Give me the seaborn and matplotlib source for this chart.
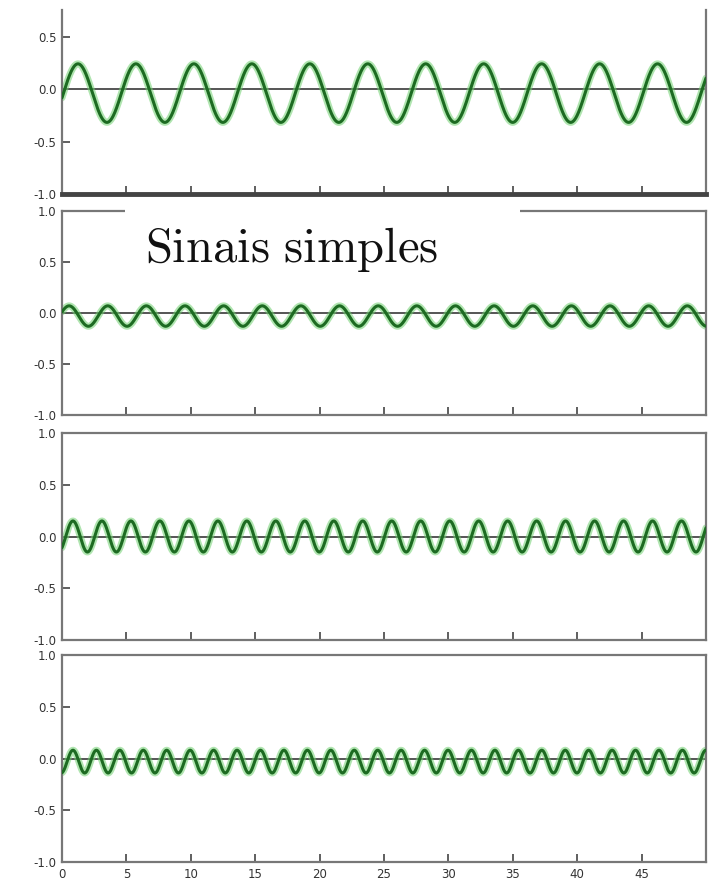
import numpy as np
import pandas as pd
import seaborn as sns
import matplotlib.pyplot as plt
from matplotlib.patches import Rectangle

# Signal readings for the four panels, top to bottom
amplitudes = [0.28, 0.10, 0.15, 0.11]
offsets = [-0.035, -0.03, 0.0, -0.03]
periods = [4.5, 3.0, 2.25, 1.82]
first_peaks = [1.24, 0.55, 0.85, 0.85]
y_tops = [0.76, 1.0, 1.0, 1.0]

x_ticks = [0, 5, 10, 15, 20, 25, 30, 35, 40, 45]
x_labels = ["0", "5", "10", "15", "20", "25", "30", "35", "40", "45"]
y_ticks = [-1.0, -0.5, 0.0, 0.5, 1.0]
y_labels = ["-1.0", "-0.5", "0.0", "0.5", "1.0"]
title = r"$\mathrm{Sinais\ simples}$"

sns.set_style("ticks")
plt.rcParams["mathtext.fontset"] = "cm"
plt.rcParams["font.family"] = ["DejaVu Sans"]

W, H = 713, 882
fig = plt.figure(figsize=(W / 100, H / 100), dpi=100)

# panel boxes in pixels (top, bottom)
boxes = [(10, 194), (211, 415), (433, 640), (655, 862)]
left_px, right_px = 62, 706

t = np.linspace(0, 50, 3000)

for i, (top, bot) in enumerate(boxes):
    ax = fig.add_axes([left_px / W, 1 - bot / H, (right_px - left_px) / W, (bot - top) / H])
    v = offsets[i] + amplitudes[i] * np.cos(2 * np.pi * (t - first_peaks[i]) / periods[i])
    df = pd.DataFrame({"t": t, "v": v})

    ax.axhline(0, color="#555555", lw=1.4, zorder=1)
    sns.lineplot(data=df, x="t", y="v", ax=ax, color="#6fd06f", lw=5.0, alpha=0.55, zorder=2)
    sns.lineplot(data=df, x="t", y="v", ax=ax, color="#1d6b22", lw=2.2, zorder=3)

    ax.set_xlim(0, 50)
    ax.set_ylim(-1.0, y_tops[i])
    ax.set_xticks(x_ticks)
    yt = [y for y in y_ticks if y <= y_tops[i] + 1e-9]
    ax.set_yticks(yt)
    ax.set_yticklabels([y_labels[y_ticks.index(y)] for y in yt])
    if i == 3:
        ax.set_xticklabels(x_labels)
    else:
        ax.set_xticklabels([])
    ax.set_xlabel("")
    ax.set_ylabel("")
    ax.tick_params(direction="in", length=6, width=1.2, color="#444444",
                   labelsize=8.5, labelcolor="#333333", pad=4)
    for s in ax.spines.values():
        s.set_visible(True)
        s.set_color("#777777")
        s.set_linewidth(1.6)
    if i == 0:
        ax.spines["top"].set_visible(False)
        ax.spines["bottom"].set_color("#444444")
        ax.spines["bottom"].set_linewidth(3.5)

# white box behind the title, breaking the top frame of the second panel
fig.patches.append(Rectangle((125 / W, 1 - 276 / H), 395 / W, 76 / H,
                             transform=fig.transFigure, facecolor="white",
                             edgecolor="none", zorder=5))
fig.text(145 / W, 1 - 262 / H, title, fontsize=35, color="#111111",
         va="baseline", ha="left", zorder=6)

fig.savefig("out.png", dpi=100)
